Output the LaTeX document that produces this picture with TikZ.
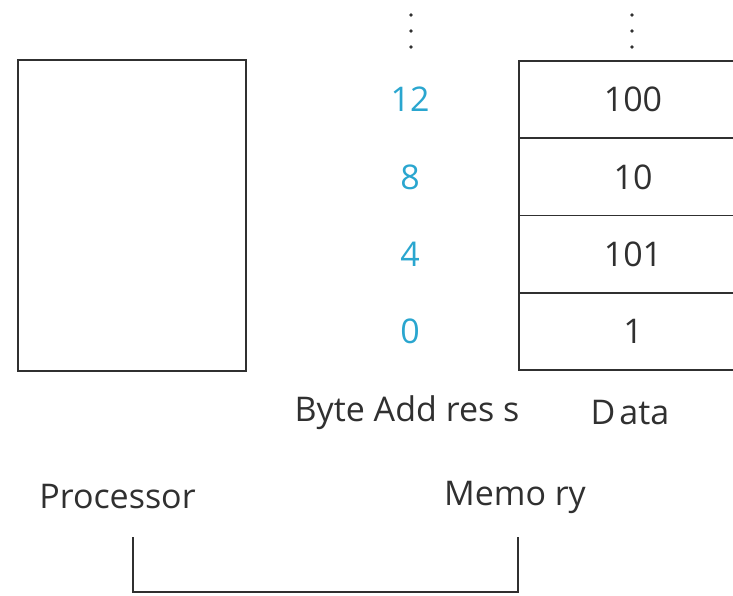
\documentclass[tikz,border=0pt]{standalone}
\usepackage{fontspec}
\setmainfont{Open Sans}
\usetikzlibrary{positioning}
\definecolor{caddr}{HTML}{2AA6CF}
\definecolor{cline}{HTML}{303030}

\begin{document}
\begin{tikzpicture}[x=1pt, y=-1pt,
    box/.style={draw=cline, line width=1.8pt, inner sep=0pt},
    cell/.style={box, minimum width=228pt, minimum height=77.25pt,
                 font=\fontsize{34}{40}\selectfont, text=cline},
    addr/.style={text=caddr, font=\fontsize{34}{40}\selectfont},
    lbl/.style={font=\fontsize{34}{40}\selectfont, text=cline}]
  \useasboundingbox (0,0) rectangle (733,595);
  \clip (0,0) rectangle (733,595);
  % processor
  \node[box, minimum width=228pt, minimum height=311pt] (proc) at (132,215.5) {};
  % memory words with their byte addresses
  \foreach \adr/\val [count=\i from 0] in {0/1, 4/101, 8/10, 12/100} {
    \node[cell] (cell\i) at (633,{331.4-77.25*\i}) {\val};
    \node[addr] (addr\i) at (410,{331.4-77.25*\i}) {\adr};
  }
  % dots above the columns
  \foreach \x in {411,632}
    \foreach \y in {15,31,47}
      \fill[cline] (\x,\y) circle (1.8pt);
  % labels
  \node[lbl] (addrlbl) at (407,413) {Byte Add res s};
  \node[lbl] (datalbl) at (630,413) {\spaceskip=0.12em D ata};
  \node[lbl] (proclbl) at (117.5,497) {Processor};
  \node[lbl] (memlbl) at (515,497) {Memo ry};
  % bus
  \coordinate (pbus) at (133,537);
  \coordinate (mbus) at (518,537);
  \draw[box] (pbus) -- ++(0,55) -| (mbus);
\end{tikzpicture}
\end{document}
